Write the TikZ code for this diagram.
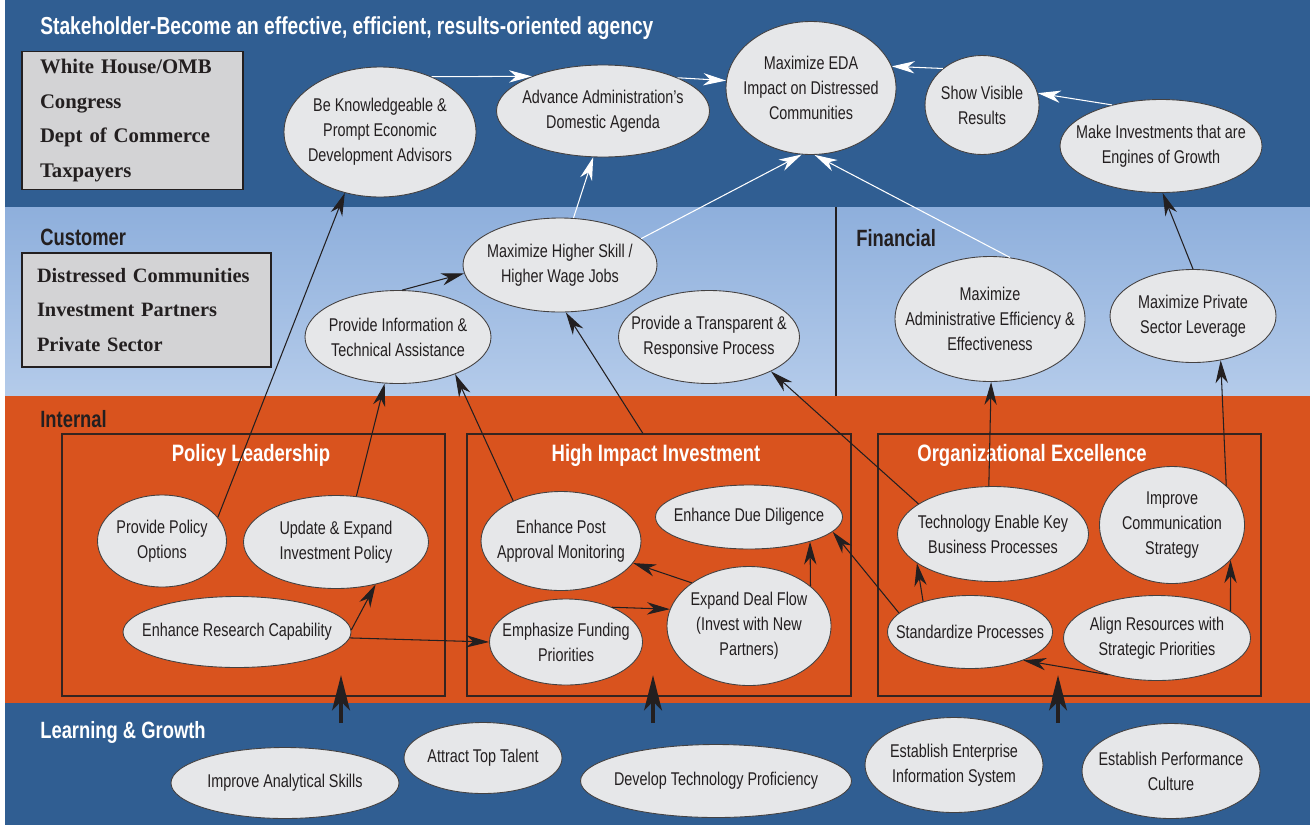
\documentclass[tikz,border=0pt]{standalone}
\usepackage{fontspec}
\setmainfont{Liberation Serif}
\newfontfamily\condfont[FakeStretch=0.78]{Liberation Sans}
\usetikzlibrary{shapes.geometric}
\usetikzlibrary{arrows.meta}

\definecolor{deepblue}{HTML}{305E92}
\definecolor{skytop}{HTML}{8EAFDC}
\definecolor{skybottom}{HTML}{B4CBEA}
\definecolor{rust}{HTML}{D9531E}
\definecolor{goalfill}{HTML}{E6E7E9}
\definecolor{boxfill}{HTML}{D3D3D5}
\definecolor{ink}{HTML}{231F20}

\tikzstyle{objective}=[ellipse, draw=ink!85, fill=goalfill, line width=0.5pt, inner sep=0pt]
\tikzstyle{objective text}=[align=center, text=ink, font={\condfont\fontsize{10.5}{14.3}\selectfont}]
\tikzstyle{perspective}=[anchor=base west, inner sep=0pt, font={\condfont\bfseries\fontsize{13.4}{16}\selectfont}]
\tikzstyle{theme}=[draw=ink!90!rust, line width=0.8pt, inner sep=0pt]
\tikzstyle{theme title}=[anchor=base, inner sep=0pt, text=white, font={\condfont\bfseries\fontsize{13.5}{16}\selectfont}]
\tikzstyle{audience}=[draw=ink, fill=boxfill, line width=0.8pt, align=left, inner ysep=0pt, inner xsep=0.36cm, text=ink, font={\bfseries\fontsize{11.8}{19.8}\selectfont}]
\tikzstyle{link}=[draw=ink, line width=0.6pt, -{Stealth[length=13pt, width=7pt, inset=4pt]}]
\tikzstyle{result link}=[draw=white, line width=0.6pt, -{Stealth[length=13pt, width=7pt, inset=4pt]}]
\tikzstyle{growth}=[draw=ink, line width=2.8pt, -{Stealth[length=20pt, width=10pt, inset=5pt]}]
\tikzset{dims/.style 2 args={minimum width=#1*0.02cm, minimum height=#2*0.02cm}}

\begin{document}
\begin{tikzpicture}[x=0.02cm, y=-0.02cm]
      \useasboundingbox (0, 0) rectangle (1310, 825);
      \fill[white] (0, 0) rectangle (1310, 825);
      \fill[deepblue] (5, 0) rectangle (1310, 207);
      \shade[top color=skytop, bottom color=skybottom] (5, 207) rectangle (1310, 396);
      \fill[rust] (5, 396) rectangle (1310, 703);
      \fill[deepblue] (5, 703) rectangle (1310, 825);
      \draw[ink, line width=1.6pt] (836, 207) -- (836, 396);

      \node[perspective, text=white, font={\condfont\bfseries\fontsize{14}{16}\selectfont}] (stakeholder) at (40, 34) {Stakeholder-Become an effective, efficient, results-oriented agency};
      \node[perspective, text=ink] (customer) at (40, 245) {Customer};
      \node[perspective, text=ink] (financial) at (856, 246) {Financial};
      \node[perspective, text=ink] (internal) at (40, 427) {Internal};
      \node[perspective, text=white] (learning) at (40, 738) {Learning \& Growth};

      \node[audience, text width=3.7cm, dims={221}{138}] (stake_box) at (132.5, 120.5)
        {White House/OMB\\Congress\\Dept of Commerce\\Taxpayers};
      \node[audience, text width=4.38cm, inner xsep=0.3cm, dims={249}{114}, font={\bfseries\fontsize{11.6}{19.8}\selectfont}] (cust_box) at (146.5, 310)
        {Distressed Communities\\Investment Partners\\Private Sector};

      \node[theme, dims={383}{262}] (policy) at (253.5, 565) {};
      \node[theme, dims={384}{262}] (invest) at (659, 565) {};
      \node[theme, dims={383}{262}] (excel) at (1069.5, 565) {};
      \node[theme title] (policy_t) at (251, 461) {Policy Leadership};
      \node[theme title] (invest_t) at (656, 461) {High Impact Investment};
      \node[theme title] (excel_t) at (1032, 461) {Organizational Excellence};

      \node[objective, dims={192}{130}, label={[objective text]center:Be Knowledgeable \&\\Prompt Economic\\Development Advisors}] (knowledge) at (380, 132) {};
      \node[objective, dims={213}{92}, label={[objective text]center:Advance Administration’s\\Domestic Agenda}] (agenda) at (603, 111) {};
      \node[objective, dims={170}{133}, label={[objective text]center:Maximize EDA\\Impact on Distressed\\Communities}] (impact) at (811, 88) {};
      \node[objective, dims={114}{99}, label={[objective text]center:Show Visible\\Results}] (visible) at (982, 105) {};
      \node[objective, dims={202}{93}, label={[objective text]center:Make Investments that are\\Engines of Growth}] (engines) at (1161, 146) {};

      \node[objective, dims={194}{94}, label={[objective text]center:Maximize Higher Skill /\\Higher Wage Jobs}] (skill) at (560, 265) {};
      \node[objective, dims={186}{93}, label={[objective text]center:Provide Information \&\\Technical Assistance}] (info) at (398, 337) {};
      \node[objective, dims={181}{93}, label={[objective text]center:Provide a Transparent \&\\Responsive Process}] (transparent) at (709, 337) {};
      \node[objective, dims={190}{125}, label={[objective text]center:Maximize\\Administrative Efficiency \&\\Effectiveness}] (efficiency) at (990, 319) {};
      \node[objective, dims={166}{93}, label={[objective text]center:Maximize Private\\Sector Leverage}] (leverage) at (1193, 316) {};

      \node[objective, dims={129}{92}, label={[objective text]center:Provide Policy\\Options}] (options) at (162, 541) {};
      \node[objective, dims={185}{93}, label={[objective text]center:Update \& Expand\\Investment Policy}] (update) at (336, 542) {};
      \node[objective, dims={228}{71}, label={[objective text]center:Enhance Research Capability}] (research) at (237, 632) {};
      \node[objective, dims={160}{99}, label={[objective text]center:Enhance Post\\Approval Monitoring}] (monitoring) at (561, 541) {};
      \node[objective, dims={153}{86}, label={[objective text]center:Emphasize Funding\\Priorities}] (funding) at (566, 642) {};
      \node[objective, dims={187}{64}, label={[objective text]center:Enhance Due Diligence}] (diligence) at (749, 517) {};
      \node[objective, dims={164}{119}, label={[objective text]center:Expand Deal Flow\\(Invest with New\\Partners)}] (dealflow) at (749, 626) {};
      \node[objective, dims={191}{95}, label={[objective text]center:Technology Enable Key\\Business Processes}] (technology) at (993, 534) {};
      \node[objective, dims={145}{117}, label={[objective text]center:Improve\\Communication\\Strategy}] (communication) at (1172, 525) {};
      \node[objective, dims={165}{73}, label={[objective text]center:Standardize Processes}] (standardize) at (970, 632) {};
      \node[objective, dims={187}{85}, label={[objective text]center:Align Resources with\\Strategic Priorities}] (align) at (1157, 638) {};

      \node[objective, dims={228}{71}, label={[objective text]center:Improve Analytical Skills}] (analytical) at (285, 783) {};
      \node[objective, dims={158}{71}, label={[objective text]center:Attract Top Talent}] (talent) at (483, 758) {};
      \node[objective, dims={271}{73}, label={[objective text]center:Develop Technology Proficiency}] (proficiency) at (716, 781) {};
      \node[objective, dims={178}{95}, label={[objective text]center:Establish Enterprise\\Information System}] (enterprise) at (954, 765) {};
      \node[objective, dims={178}{95}, label={[objective text]center:Establish Performance\\Culture}] (performance) at (1171, 771) {};

      \draw[result link] (knowledge.47) -- (agenda.154);
      \draw[result link] (agenda.24) -- (impact.175);
      \draw[result link] (visible.137) -- (impact.15);
      \draw[result link] (engines.140) -- (visible.12);
      \draw[result link] (skill.74) -- (agenda.258);
      \draw[result link] (skill.18) -- (impact.262);
      \draw[result link] (efficiency.72) -- (impact.273);

      \draw[link] (leverage.90) -- (engines.272);
      \draw[link] (options.23) -- (knowledge.240);
      \draw[link] (info.85) -- (skill.185);
      \draw[link] (update.66) -- (info.254);
      \draw[link] (monitoring.140) -- (info.327);
      \draw[link] (invest.97) -- (skill.277);
      \draw[link] (technology.158) -- (transparent.331);
      \draw[link] (technology.95) -- (efficiency.271);
      \draw[link] (communication.36) -- (leverage.302);
      \draw[link] (research.1) -- (update.313);
      \draw[link] (research.-3) -- (funding.180);
      \draw[link] (dealflow.143) -- (monitoring.343);
      \draw[link] (funding.37) -- (dealflow.168);
      \draw[link] (dealflow.33) -- (diligence.338);
      \draw[link] (standardize.165) -- (diligence.350);
      \draw[link] (standardize.147) -- (technology.201);
      \draw[link] (align.217) -- (standardize.332);
      \draw[link] (align.20) -- (communication.329);

      \foreach \x/\panel in {341/policy, 653/invest, 1058/excel} {
        \coordinate (\panel_from) at (\x, 723);
        \coordinate (\panel_to) at (\x, 675);
        \draw[growth] (\panel_from) -- (\panel_to);
      }
    \end{tikzpicture}
\end{document}
